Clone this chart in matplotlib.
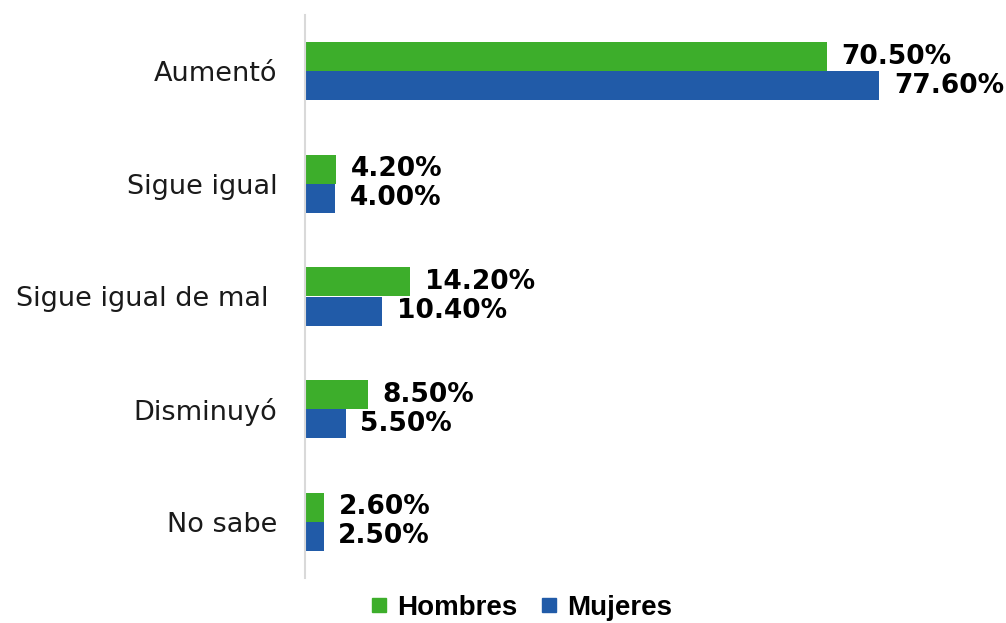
import numpy as np
import matplotlib
matplotlib.use("Agg")
import matplotlib.pyplot as plt
from matplotlib.lines import Line2D

categories = ["Aumentó", "Sigue igual", "Sigue igual de mal ", "Disminuyó", "No sabe"]
hombres = [70.5, 4.2, 14.2, 8.5, 2.6]
mujeres = [77.6, 4.0, 10.4, 5.5, 2.5]

green = "#3dae2b"
blue = "#215ba8"

fig = plt.figure(figsize=(10.06, 6.23), dpi=100)
ax = fig.add_axes([305 / 1006, 45 / 623, 592 / 1006, 563 / 623])

y = np.arange(len(categories))
h = 0.258
ax.barh(y - h / 2, hombres, height=h, color=green)
ax.barh(y + h / 2, mujeres, height=h, color=blue)

for i in range(len(categories)):
    ax.text(hombres[i] + 2.0, y[i] - h / 2, f"{hombres[i]:.2f}%", va="center", ha="left",
            fontsize=19, fontweight="bold", family="DejaVu Sans")
    ax.text(mujeres[i] + 2.0, y[i] + h / 2, f"{mujeres[i]:.2f}%", va="center", ha="left",
            fontsize=19, fontweight="bold", family="DejaVu Sans")

ax.set_xlim(0, 80)
ax.set_ylim(4.5, -0.5)
ax.set_yticks(y)
ax.set_yticklabels(categories, fontsize=19.5, family="DejaVu Sans", color="#1a1a1a")
ax.tick_params(axis="y", length=0, pad=20)
ax.set_xticks([])
for s in ["top", "right", "bottom"]:
    ax.spines[s].set_visible(False)
ax.spines["left"].set_color("#d9d9d9")
ax.spines["left"].set_linewidth(1.5)

handles = [Line2D([], [], marker="s", linestyle="none", color=green, markersize=10),
           Line2D([], [], marker="s", linestyle="none", color=blue, markersize=10)]
fig.legend(handles, ["Hombres", "Mujeres"], loc="center", bbox_to_anchor=(521 / 1006, 1 - 608 / 623),
           ncol=2, frameon=False, handlelength=0.7, handletextpad=0.3, columnspacing=0.8,
           prop={"family": "Liberation Sans", "weight": "bold", "size": 20})

fig.savefig("out.png", dpi=100)
